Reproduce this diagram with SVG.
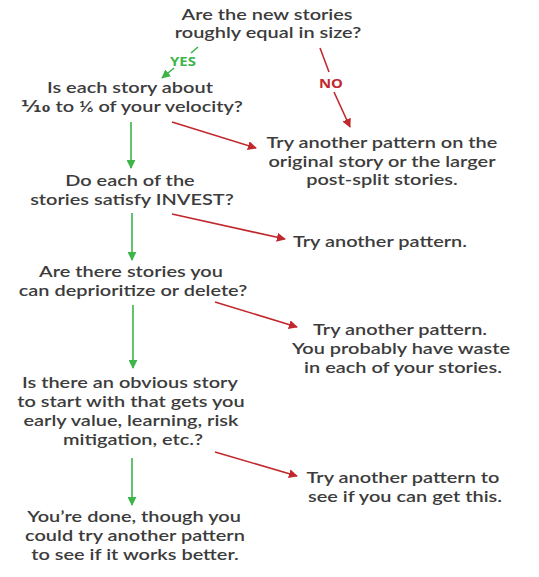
<svg xmlns="http://www.w3.org/2000/svg" width="539" height="577" viewBox="0 0 539 577">
<style>
.t{font-family:Lato,"Open Sans","DejaVu Sans",sans-serif;font-size:15px;font-weight:600;fill:#3c3c3c;text-anchor:middle}
.g{stroke:#3db54a;stroke-width:1.6;fill:none}
.r{stroke:#c1272d;stroke-width:1.6;fill:none}
.lab{font-family:"Open Sans","Liberation Sans",sans-serif;font-weight:bold;font-size:13px;text-anchor:middle}
.s{transform:scale(1.33,1)}
.sl{transform:scale(1.15,1)}
</style>
<defs>
<marker id="ag" viewBox="0 0 10 10" refX="9" refY="5" markerWidth="9" markerHeight="9" markerUnits="userSpaceOnUse" orient="auto"><path d="M0,0L10,5L0,10z" fill="#3db54a"/></marker>
<marker id="ar" viewBox="0 0 10 10" refX="9" refY="5" markerWidth="9" markerHeight="9" markerUnits="userSpaceOnUse" orient="auto"><path d="M0,0L10,5L0,10z" fill="#c1272d"/></marker>
</defs>
<rect width="539" height="577" fill="#fff"/>
<g id="connectors">
<path class="g" d="M198,47L191,53"/>
<path class="g" d="M174,68L162,78" marker-end="url(#ag)"/>
<path class="r" d="M320,48L329,72"/>
<path class="r" d="M334,92L350,127" marker-end="url(#ar)"/>
<path class="g" d="M131,122V168" marker-end="url(#ag)"/>
<path class="r" d="M172,122L256,148" marker-end="url(#ar)"/>
<path class="g" d="M132,213V260" marker-end="url(#ag)"/>
<path class="r" d="M172,214L285,239" marker-end="url(#ar)"/>
<path class="g" d="M133,305V368" marker-end="url(#ag)"/>
<path class="r" d="M215,302L297,327" marker-end="url(#ar)"/>
<path class="g" d="M132,458V505" marker-end="url(#ag)"/>
<path class="r" d="M215,452L297,476" marker-end="url(#ar)"/>
<g class="sl"><text class="lab" x="159.1" y="66" fill="#3db54a">YES</text>
<text class="lab" x="287.8" y="88" fill="#c1272d">NO</text></g>
</g>
<g id="q1" class="s"><text class="t" x="200.8" y="20">Are the new stories</text><text class="t" x="201.5" y="38">roughly equal in size?</text></g>
<g id="q2" class="s"><text class="t" x="97.7" y="93">Is each story about</text><text class="t" x="99.2" y="112">⅒ to ⅙ of your velocity?</text></g>
<g id="a1" class="s"><text class="t" x="287.2" y="148">Try another pattern on the</text><text class="t" x="287.2" y="167">original story or the larger</text><text class="t" x="287.2" y="185">post-split stories.</text></g>
<g id="q3" class="s"><text class="t" x="97.7" y="186">Do each of the</text><text class="t" x="99.2" y="205">stories satisfy INVEST?</text></g>
<g id="a2" class="s"><text class="t" x="285.7" y="247">Try another pattern.</text></g>
<g id="q4" class="s"><text class="t" x="98.5" y="277">Are there stories you</text><text class="t" x="100" y="296">can deprioritize or delete?</text></g>
<g id="a3" class="s"><text class="t" x="300.8" y="335">Try another pattern.</text><text class="t" x="301.5" y="354">You probably have waste</text><text class="t" x="303" y="373">in each of your stories.</text></g>
<g id="q5" class="s"><text class="t" x="97.7" y="388">Is there an obvious story</text><text class="t" x="98.5" y="407">to start with that gets you</text><text class="t" x="98.5" y="426">early value, learning, risk</text><text class="t" x="100" y="445">mitigation, etc.?</text></g>
<g id="a4" class="s"><text class="t" x="303" y="483">Try another pattern to</text><text class="t" x="304.5" y="502">see if you can get this.</text></g>
<g id="done" class="s"><text class="t" x="100.8" y="522">You’re done, though you</text><text class="t" x="101.5" y="541">could try another pattern</text><text class="t" x="101.5" y="560">to see if it works better.</text></g>
</svg>
